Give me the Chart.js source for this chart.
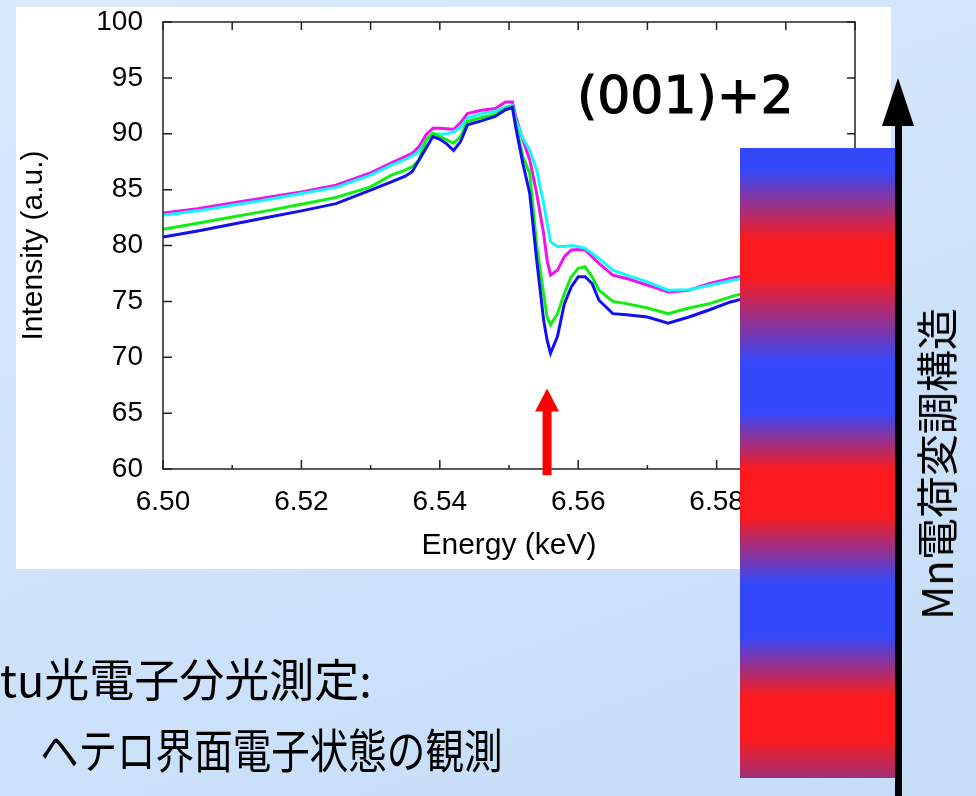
<!DOCTYPE html>
<html>
<head>
<meta charset="utf-8">
<script src="https://cdn.jsdelivr.net/npm/chart.js@4"></script>
<style>
	body {
		margin: 0;
		width: 976px;
		height: 796px;
		overflow: hidden;
		position: relative;
		background: linear-gradient(160deg, #d9eafc 0%, #cfe3fa 50%, #c6ddf8 100%);
		font-family: "Noto Sans CJK JP", sans-serif;
	}
	#panel { position: absolute; left: 16px; top: 7px; width: 875px; height: 562px; background: #fff; }
	#chart { position: absolute; left: 0; top: 0; }
	#bar {
		position: absolute; left: 740px; top: 148px; width: 155px; height: 630px;
		background: linear-gradient(to bottom,
			#3448fa 0%, #3448fa 3.5%, #fa1a1e 14.5%, #fa1a1e 20.5%,
			#3448fa 34%, #3448fa 42%, #fa1a1e 51%, #fa1a1e 58.5%,
			#3448fa 69%, #3448fa 77.5%, #fa1a1e 87%, #fa1a1e 94%, #a0307a 100%);
	}
	#shaft { position: absolute; left: 895px; top: 120px; width: 7px; height: 680px; background: #000; }
	#head {
		position: absolute; left: 882px; top: 78px; width: 0; height: 0;
		border-left: 16px solid transparent; border-right: 16px solid transparent;
		border-bottom: 48px solid #000;
	}
	#tag {
		position: absolute; left: 577px; top: 69px; font: 52px "DejaVu Sans"; line-height: 1;
		color: #000; white-space: nowrap; -webkit-text-stroke: 1.2px #000;
	}
	#vtext {
		position: absolute; left: 935px; top: 464px; font-size: 42px; line-height: 1; white-space: nowrap;
		transform: translate(-50%, -50%) rotate(-90deg);
	}
	#line1 { position: absolute; left: 0; top: 655px; font-size: 45px; line-height: 1; white-space: nowrap; }
	#line2 {
		position: absolute; left: 40px; top: 724px; font-size: 47px; line-height: 1; white-space: nowrap;
		transform: scaleX(0.82); transform-origin: left top;
	}
</style>
</head>
<body>
<div id="panel"></div>
<canvas id="chart" width="976" height="796"></canvas>
<div id="tag">(001)+2</div>
<div id="bar"></div>
<div id="shaft"></div>
<div id="head"></div>
<div id="vtext">Mn電荷変調構造</div>
<div id="line1">tu光電子分光測定:</div>
<div id="line2">ヘテロ界面電子状態の観測</div>
<script>
var energy = [6.500, 6.505, 6.510, 6.515, 6.520, 6.525, 6.530, 6.533, 6.535, 6.536, 6.537, 6.538, 6.539, 6.540, 6.541, 6.542, 6.543, 6.544, 6.546, 6.548, 6.5495, 6.5505, 6.551, 6.552, 6.553, 6.554, 6.555, 6.5555, 6.556, 6.557, 6.558, 6.559, 6.560, 6.561, 6.562, 6.563, 6.565, 6.567, 6.570, 6.573, 6.576, 6.579, 6.582, 6.585];

var magenta = [82.9, 83.3, 83.8, 84.3, 84.8, 85.4, 86.5, 87.4, 87.95, 88.25, 88.85, 89.9, 90.5, 90.5, 90.45, 90.4, 91.0, 91.8, 92.1, 92.25, 92.85, 92.85, 91.5, 89.45, 87.65, 84.65, 81.1, 78.7, 77.35, 77.8, 79.0, 79.6, 79.65, 79.6, 79.0, 78.4, 77.35, 77.05, 76.45, 75.85, 76.0, 76.6, 77.05, 77.4];
var cyan = [82.7, 83.1, 83.6, 84.1, 84.65, 85.2, 86.3, 87.2, 87.7, 88.0, 88.45, 89.35, 90.0, 89.95, 90.0, 90.15, 90.6, 91.4, 91.8, 92.0, 92.4, 92.55, 91.2, 89.6, 88.55, 86.75, 83.8, 82.0, 80.35, 79.9, 79.9, 80.0, 79.9, 79.75, 79.3, 78.85, 77.8, 77.35, 76.75, 76.0, 76.05, 76.45, 76.85, 77.2];
var green = [81.45, 82.0, 82.55, 83.1, 83.7, 84.3, 85.25, 86.3, 86.75, 87.05, 87.65, 89.45, 90.05, 89.75, 89.45, 89.15, 89.75, 91.1, 91.45, 91.7, 92.25, 92.45, 90.8, 87.95, 86.45, 80.0, 75.7, 73.6, 72.9, 73.9, 75.7, 77.2, 77.95, 78.1, 77.2, 76.0, 75.0, 74.8, 74.4, 73.9, 74.4, 74.8, 75.4, 75.9];
var blue = [80.75, 81.3, 81.9, 82.5, 83.1, 83.75, 84.95, 85.7, 86.2, 86.6, 87.65, 88.7, 89.75, 89.5, 89.1, 88.5, 89.3, 90.8, 91.15, 91.55, 92.15, 92.35, 90.5, 87.35, 84.65, 78.7, 73.35, 71.55, 70.35, 71.85, 74.8, 76.3, 77.2, 77.2, 76.6, 75.1, 73.9, 73.8, 73.6, 73.05, 73.6, 74.25, 74.95, 75.4];

// red arrow marking the dip (x in keV, y in intensity)
var arrowX = 6.5555;
var arrowBase = 59.45;
var arrowTip = 67.2;

function points(ys) {
	return ys.map(function (v, i) { return { x: energy[i], y: v }; });
}

var framePlugin = {
	id: "frame",
	afterDatasetsDraw: function (chart) {
		var ctx = chart.ctx;
		var a = chart.chartArea;
		var xs = chart.scales.x, ys = chart.scales.y;
		ctx.save();
		ctx.strokeStyle = "#222";
		ctx.lineWidth = 1.5;
		ctx.strokeRect(a.left, a.top, a.right - a.left, a.bottom - a.top);
		ctx.beginPath();
		xs.ticks.forEach(function (t) {
			var px = xs.getPixelForValue(t.value);
			var major = Math.round(t.value * 100) % 2 === 0;
			ctx.moveTo(px, a.bottom);
			ctx.lineTo(px, a.bottom - (major ? 9 : 4));
			ctx.moveTo(px, a.top);
			ctx.lineTo(px, a.top + 8);
		});
		ys.ticks.forEach(function (t) {
			var py = ys.getPixelForValue(t.value);
			ctx.moveTo(a.left, py);
			ctx.lineTo(a.left + 9, py);
			ctx.moveTo(a.right, py);
			ctx.lineTo(a.right - 8, py);
		});
		ctx.stroke();

		var ax = xs.getPixelForValue(arrowX);
		var y0 = ys.getPixelForValue(arrowBase);
		var y1 = ys.getPixelForValue(arrowTip);
		ctx.fillStyle = "#ff0000";
		ctx.fillRect(ax - 4.5, y1 + 22, 9, y0 - y1 - 22);
		ctx.beginPath();
		ctx.moveTo(ax, y1);
		ctx.lineTo(ax + 12, y1 + 23);
		ctx.lineTo(ax - 12, y1 + 23);
		ctx.closePath();
		ctx.fill();
		ctx.restore();
	}
};

var tickFont = { family: "'Liberation Sans', Arial, sans-serif", size: 28 };
var titleFont = { family: "'Liberation Sans', Arial, sans-serif", size: 30 };

new Chart(document.getElementById("chart").getContext("2d"), {
	type: "line",
	data: {
		datasets: [
			{ data: points(blue), borderColor: "#1010f0" },
			{ data: points(green), borderColor: "#10f010" },
			{ data: points(cyan), borderColor: "#10f8f8" },
			{ data: points(magenta), borderColor: "#f010f0" }
		]
	},
	options: {
		responsive: false,
		animation: false,
		devicePixelRatio: 1,
		layout: { padding: { left: 15, top: 22, right: 121, bottom: 227 } },
		elements: {
			line: { borderWidth: 3, tension: 0, fill: false },
			point: { radius: 0 }
		},
		plugins: { legend: { display: false }, tooltip: { enabled: false } },
		scales: {
			x: {
				type: "linear",
				min: 6.5,
				max: 6.6,
				grid: { display: false, drawTicks: false },
				border: { display: false },
				ticks: {
					stepSize: 0.01,
					autoSkip: false,
					maxRotation: 0,
					padding: 16,
					color: "#000",
					font: tickFont,
					callback: function (v) { return Math.round(v * 100) % 2 === 0 ? v.toFixed(2) : ""; }
				},
				title: { display: true, text: "Energy (keV)", color: "#000", font: titleFont, padding: { top: 0, bottom: 5 } },
				afterFit: function (s) {
					s.height = 100;
					s.paddingLeft = 0;
					s.paddingRight = 0;
				}
			},
			y: {
				min: 60,
				max: 100,
				grid: { display: false, drawTicks: false },
				border: { display: false },
				ticks: { stepSize: 5, padding: 20, color: "#000", font: tickFont },
				title: { display: true, text: "Intensity (a.u.)", color: "#000", font: titleFont, padding: { top: 1, bottom: 0 } },
				afterFit: function (s) {
					s.width = 148;
					s.paddingTop = 0;
					s.paddingBottom = 0;
				}
			}
		}
	},
	plugins: [framePlugin]
});
</script>
</body>
</html>
